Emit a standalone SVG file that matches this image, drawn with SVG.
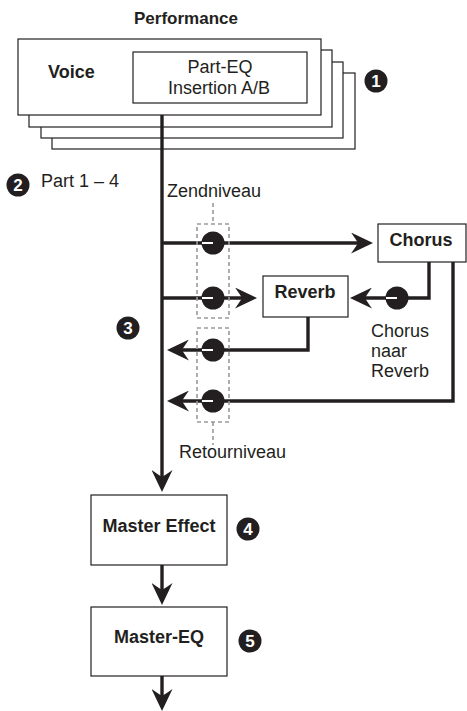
<svg xmlns="http://www.w3.org/2000/svg" width="467" height="711" viewBox="0 0 467 711">
  <style>
    .box { fill: #ffffff; stroke: #231f20; stroke-width: 1.2; }
    .wire { fill: none; stroke: #231f20; stroke-width: 3.4; }
    .dash { fill: none; stroke: #9a9a9a; stroke-width: 1.6; stroke-dasharray: 4 3; }
    .t { font-family: "Liberation Sans", Arial, sans-serif; font-size: 18px; fill: #231f20; }
    .b { font-weight: bold; }
    .mid { text-anchor: middle; }
    .badge circle { fill: #231f20; }
    .badge text { font-family: "Liberation Sans", Arial, sans-serif; font-size: 17px; font-weight: bold; fill: #ffffff; text-anchor: middle; }
    .knob circle { fill: #231f20; }
    .knob line { stroke: #ffffff; stroke-width: 2; }
  </style>
  <defs>
    <marker id="arr" markerUnits="userSpaceOnUse" markerWidth="22" markerHeight="21" refX="8" refY="10.5" orient="auto" viewBox="0 0 22 21">
      <path d="M0,0 L22,10.5 L0,21 Q5,14 7,10.5 Q5,7 0,0 Z" fill="#231f20"/>
    </marker>
  </defs>

  <rect width="467" height="711" fill="#ffffff"/>

  <g id="performance">
    <text class="t b mid" x="186" y="24" style="font-size:17px">Performance</text>
  </g>

  <g id="voice">
    <rect class="box" x="52" y="73" width="303" height="76"/>
    <rect class="box" x="41" y="62" width="302" height="76"/>
    <rect class="box" x="29" y="50" width="303" height="77"/>
    <rect class="box" x="18" y="39" width="303" height="76"/>
    <text class="t b" x="48" y="78">Voice</text>
  </g>

  <g id="part-eq">
    <rect class="box" x="133" y="52" width="174" height="51"/>
    <text class="t mid" x="220" y="73">Part-EQ</text>
    <text class="t mid" x="219" y="94">Insertion A/B</text>
  </g>

  <g id="badge1" class="badge"><circle cx="376" cy="81" r="11.5"/><text x="376" y="87">1</text></g>
  <g id="badge2" class="badge"><circle cx="18" cy="185" r="11.5"/><text x="18" y="191">2</text></g>
  <g id="badge3" class="badge"><circle cx="128" cy="328" r="11.5"/><text x="128" y="334">3</text></g>
  <g id="badge4" class="badge"><circle cx="248" cy="529" r="11.5"/><text x="248" y="535">4</text></g>
  <g id="badge5" class="badge"><circle cx="250" cy="641" r="11.5"/><text x="250" y="647">5</text></g>

  <g id="label-part">
    <text class="t" x="41" y="187">Part 1 – 4</text>
  </g>

  <g id="chorus">
    <rect class="box" x="378" y="224" width="88" height="38"/>
    <text class="t b mid" x="421" y="246">Chorus</text>
  </g>

  <g id="reverb">
    <rect class="box" x="263" y="276" width="85" height="41"/>
    <text class="t b mid" x="305" y="298">Reverb</text>
  </g>

  <g id="master-effect">
    <rect class="box" x="91" y="495" width="136" height="70"/>
    <text class="t b mid" x="159" y="532">Master Effect</text>
  </g>

  <g id="master-eq">
    <rect class="box" x="91" y="607" width="136" height="69"/>
    <text class="t b mid" x="159" y="643">Master-EQ</text>
  </g>

  <g id="connectors">
    <path class="wire" d="M162,115 V478" marker-end="url(#arr)"/>
    <path class="wire" d="M162,243 H359" marker-end="url(#arr)"/>
    <path class="wire" d="M162,298 H243" marker-end="url(#arr)"/>
    <path class="wire" d="M429,262 V298 H364" marker-end="url(#arr)"/>
    <path class="wire" d="M308,317 V350 H181" marker-end="url(#arr)"/>
    <path class="wire" d="M453,262 V401 H181" marker-end="url(#arr)"/>
    <path class="wire" d="M162,565 V591" marker-end="url(#arr)"/>
    <path class="wire" d="M162,676 V697" marker-end="url(#arr)"/>
  </g>

  <g id="knobs">
    <g class="knob"><circle cx="213" cy="243" r="11.5"/><line x1="202" y1="243" x2="213" y2="243"/></g>
    <g class="knob"><circle cx="213" cy="298" r="11.5"/><line x1="202" y1="298" x2="213" y2="298"/></g>
    <g class="knob"><circle cx="213" cy="350" r="11.5"/><line x1="202" y1="350" x2="213" y2="350"/></g>
    <g class="knob"><circle cx="213" cy="401" r="11.5"/><line x1="202" y1="401" x2="213" y2="401"/></g>
    <g class="knob"><circle cx="397" cy="298" r="11.5"/><line x1="386" y1="298" x2="397" y2="298"/></g>
  </g>

  <g id="send-level">
    <rect class="dash" x="197" y="224" width="32" height="94"/>
    <line class="dash" x1="213" y1="203" x2="213" y2="224"/>
    <text class="t" x="167" y="197">Zendniveau</text>
  </g>

  <g id="return-level">
    <rect class="dash" x="197" y="328" width="32" height="94"/>
    <line class="dash" x1="213" y1="422" x2="213" y2="445"/>
    <text class="t" x="179" y="458">Retourniveau</text>
  </g>

  <g id="chorus-to-reverb-label">
    <text class="t" x="371" y="337">Chorus</text>
    <text class="t" x="371" y="357">naar</text>
    <text class="t" x="371" y="377">Reverb</text>
  </g>
</svg>
